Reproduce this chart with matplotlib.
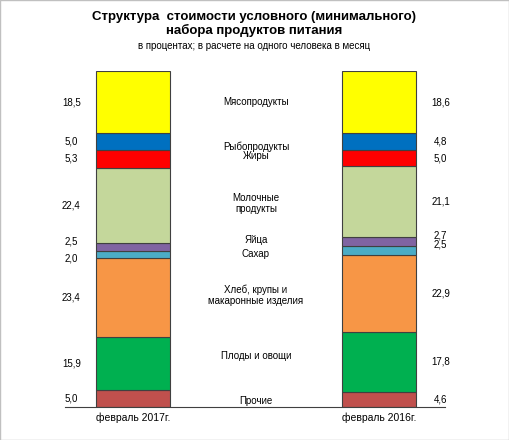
import matplotlib
matplotlib.use('Agg')
import matplotlib.pyplot as plt
import numpy as np

plt.rcParams['font.family'] = ['Liberation Sans', 'DejaVu Sans']

# bottom to top
categories = ['Прочие', 'Плоды и овощи', 'Хлеб, крупы и\nмакаронные изделия', 'Сахар', 'Яйца',
              'Молочные\nпродукты', 'Жиры', 'Рыбопродукты', 'Мясопродукты']
vals_2017 = [5.0, 15.9, 23.4, 2.0, 2.5, 22.4, 5.3, 5.0, 18.5]
vals_2016 = [4.6, 17.8, 22.9, 2.5, 2.7, 21.1, 5.0, 4.8, 18.6]
bar_labels = ['февраль 2017г.', 'февраль 2016г.']
colors = ['#C0504D', '#00B050', '#F79646', '#4BACC6', '#8064A2',
          '#C4D79B', '#FF0000', '#0070C0', '#FFFF00']

fig = plt.figure(figsize=(5.09, 4.40), dpi=100)
ax = fig.add_axes([65 / 509, 33 / 440, 380 / 509, 336 / 440])
ax.set_xlim(-0.276, 1.268)
ax.set_ylim(0, 100)

w = 0.30
mids = []
for x, vals, side in [(0, vals_2017, -1), (1, vals_2016, 1)]:
    bottoms = np.concatenate([[0], np.cumsum(vals)[:-1]])
    ax.bar(x, vals, bottom=bottoms, width=w, color=colors, edgecolor='#404040', linewidth=0.8)
    m = bottoms + np.array(vals) / 2
    mids.append(m)
    for v, y in zip(vals, m):
        # spread the tiny segments a bit
        if v < 3:
            y = y + (1.8 if y > 46.5 else -1.0)
        ax.text(x + side * (w / 2 + 0.1), y, f'{v:.1f}'.replace('.', ','),
                ha='center', va='center', fontsize=7)

nudge = {'Сахар': -0.5, 'Яйца': 1.5, 'Жиры': 0.8, 'Рыбопродукты': -1.5,
         'Прочие': -0.5, 'Плоды и овощи': 2.0}
mid_avg = (mids[0] + mids[1]) / 2
for c, y in zip(categories, mid_avg):
    ax.text(0.5, y + nudge.get(c, 0), c, ha='center', va='center', fontsize=7)

for s in ['top', 'left', 'right']:
    ax.spines[s].set_visible(False)
ax.spines['bottom'].set_color('#404040')
ax.set_yticks([])
ax.set_xticks([0, 1])
ax.set_xticklabels(bar_labels, fontsize=7.5)
ax.tick_params(axis='x', length=0, pad=4)

fig.text(0.5, 0.945, 'Структура  стоимости условного (минимального)\nнабора продуктов питания',
         ha='center', va='center', fontsize=9.5, fontweight='bold', linespacing=1.05)
fig.text(0.5, 0.895, 'в процентах; в расчете на одного человека в месяц',
         ha='center', va='center', fontsize=7)

fig.add_artist(plt.Rectangle((0, 0), 1, 1, transform=fig.transFigure, fill=False,
                             edgecolor='#C0C0C0', linewidth=1))
fig.savefig('out.png', dpi=100)
